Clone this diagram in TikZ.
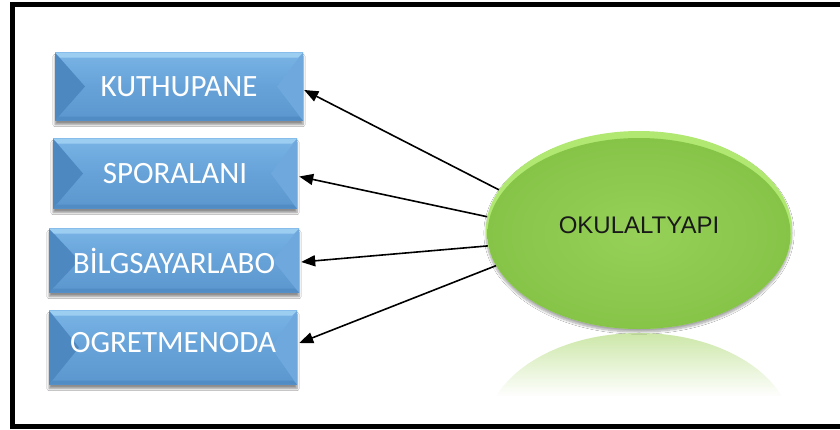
\documentclass[tikz,border=0pt]{standalone}
\usepackage{fontspec}
\setmainfont{Liberation Sans}
\newfontfamily\btnfont{Carlito}
\usetikzlibrary{shapes.geometric, arrows.meta, shadows.blur, calc}

% palette
\definecolor{btntop}{RGB}{122,180,230}
\definecolor{btnmid}{RGB}{102,162,216}
\definecolor{btnbot}{RGB}{92,150,206}
\definecolor{btnleft}{RGB}{78,136,192}
\definecolor{btnright}{RGB}{110,168,220}
\definecolor{btnhi}{RGB}{156,206,242}
\definecolor{btnlow}{RGB}{82,140,196}
\definecolor{ovalin}{RGB}{150,208,88}
\definecolor{ovalout}{RGB}{134,196,72}
\definecolor{ovalrim}{RGB}{176,232,114}
\definecolor{mirror}{RGB}{204,231,168}

\tikzset{
  bevelbox/.style={
    rectangle, inner sep=0pt, text=white,
    font=\btnfont\fontsize{31}{33}\selectfont,
    blur shadow={shadow xshift=0pt, shadow yshift=-4pt, shadow blur steps=6, shadow opacity=45},
    path picture={
      \coordinate (nw) at (path picture bounding box.north west);
      \coordinate (ne) at (path picture bounding box.north east);
      \coordinate (sw) at (path picture bounding box.south west);
      \coordinate (se) at (path picture bounding box.south east);
      \shade[top color=btntop, bottom color=btnbot, middle color=btnmid] (nw) rectangle (se);
      \fill[btnleft] (nw) -- ($(nw)!0.5!(sw)+(30,0)$) -- (sw) -- cycle;
      \fill[btnright] (ne) -- ($(ne)!0.5!(se)+(-26,0)$) -- (se) -- cycle;
      \fill[btnhi] (nw) -- (ne) -- ($(ne)+(-5,5)$) -- ($(nw)+(5,5)$) -- cycle;
      \fill[btnlow] (sw) -- (se) -- ($(se)+(-4,-4)$) -- ($(sw)+(4,-4)$) -- cycle;
    }
  },
  oval/.style={
    ellipse, inner sep=0pt, minimum width=306pt, minimum height=198pt,
    font=\fontsize{24}{26}\selectfont, text=black!90,
    blur shadow={shadow xshift=0pt, shadow yshift=-3pt, shadow blur steps=8, shadow opacity=35},
    path picture={
      \fill[ovalrim] (path picture bounding box.north west) rectangle (path picture bounding box.south east);
      \shade[inner color=ovalin, outer color=ovalout]
        ($(path picture bounding box.center)+(0,4)$) ellipse [x radius=151.5, y radius=96];
    }
  },
  link/.style={line width=1.6pt, -{Triangle[length=14pt, width=11pt]}}
}

\begin{document}
\begin{tikzpicture}[x=1pt, y=-1pt]
  \useasboundingbox (0,0) rectangle (840,429);
  \clip (0,0) rectangle (840,429);
  \fill[white] (0,0) rectangle (840,429);

  % outer frame, open past the right edge
  \draw[line width=5pt] (12,4.5) rectangle (870,426.5);

  % mirrored oval below the main one, fading into the page
  \begin{scope}
    \clip (639,432) ellipse [x radius=153, y radius=99];
    \shade[top color=mirror, bottom color=white] (480,333) rectangle (800,397);
  \end{scope}

  % facility boxes
  \node[bevelbox, minimum width=248pt, minimum height=68pt] (k1) at (179,86.5) {KUTHUPANE};
  \node[bevelbox, minimum width=244pt, minimum height=70pt] (k2) at (175,173.5) {SPORALANI};
  \node[bevelbox, minimum width=250pt, minimum height=64pt] (k3) at (174,260.5) {BİLGSAYARLABO};
  \node[bevelbox, minimum width=248pt, minimum height=74pt, text depth=11pt] (k4) at (173,347.5) {OGRETMENODA};

  % central oval
  \node[oval, text depth=10pt] (okul) at (639,230) {OKULALTYAPI};

  % connectors
  \draw[link] (okul.164.3) -- ([xshift=1pt, yshift=-3.5pt]k1.east);
  \draw[link] (okul.175.2) -- ([xshift=2pt, yshift=-3pt]k2.east);
  \draw[link] (okul.186.3) -- ([xshift=2pt, yshift=-1.5pt]k3.east);
  \draw[link] (okul.194.9) -- ([xshift=2pt, yshift=4.5pt]k4.east);
\end{tikzpicture}
\end{document}
